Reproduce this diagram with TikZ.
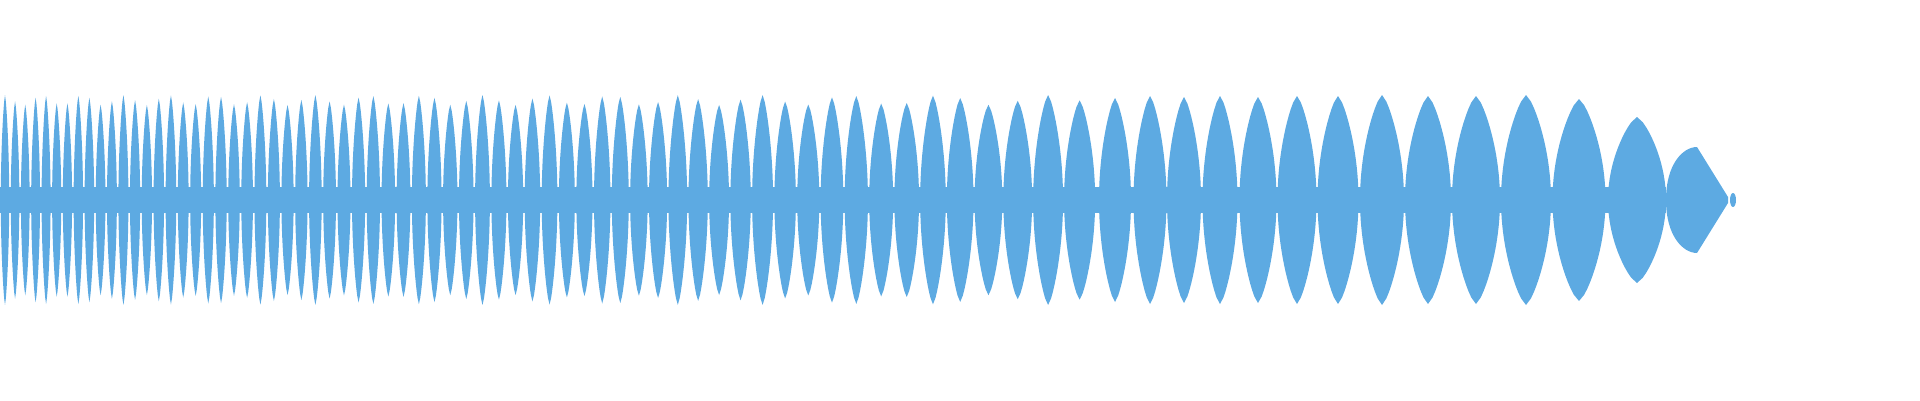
\documentclass[tikz,border=0pt]{standalone}
\definecolor{wavec}{RGB}{93,170,226}
\begin{document}
\begin{tikzpicture}[x=1pt,y=1pt,wave/.style={fill=wavec}]
\useasboundingbox (0,0) rectangle (1920,400);
\fill[wave] (0,187) rectangle (1666,213);
\newcommand\lens[3]{\fill[wave] plot[domain=-1:1,samples=33] ({#1-#2*(abs(cos(90*\x)))^0.7},{200+#3*\x}) -- plot[domain=1:-1,samples=33] ({#1+#2*(abs(cos(90*\x)))^0.7},{200+#3*\x}) -- cycle;}
\def\cx{5}
\foreach \i in {1,...,160}{
  \ifdim\cx pt<1090pt
  \pgfmathsetmacro\s{\cx<600 ? 10+8*\cx/600 : (\cx<700 ? 18+3*(\cx-600)/100 : (\cx<900 ? 21+5*(\cx-700)/200 : 26+8*(\cx-900)/215))}
  \pgfmathsetmacro\h{\s/2-0.8}
  \pgfmathsetmacro\A{100+5*sin(\i*97)}
  \lens{\cx}{\h}{\A}
  \pgfmathsetmacro\nx{\cx+\s}
  \xdef\cx{\nx}
  \fi
}
\foreach \c/\h/\a in {1115/16/102,1150/16.5/104,1184/17/103,1220/17.5/104,1258/18.5/103,1297/19.5/104,1338/20.5/104,1382/22/105,1428/23/104,1476/24/104,1526/25/105,1579/26.5/101}{\lens{\c}{\h}{\a}}
\lens{1637}{29}{83}
\fill[wave] (1666,200) .. controls (1666,236) and (1683,253) .. (1697,253) -- (1728,203) -- (1728,197) -- (1697,147) .. controls (1683,147) and (1666,164) .. (1666,200) -- cycle;
\fill[wave] (1733,200) ellipse (3 and 7);
\end{tikzpicture}
\end{document}
